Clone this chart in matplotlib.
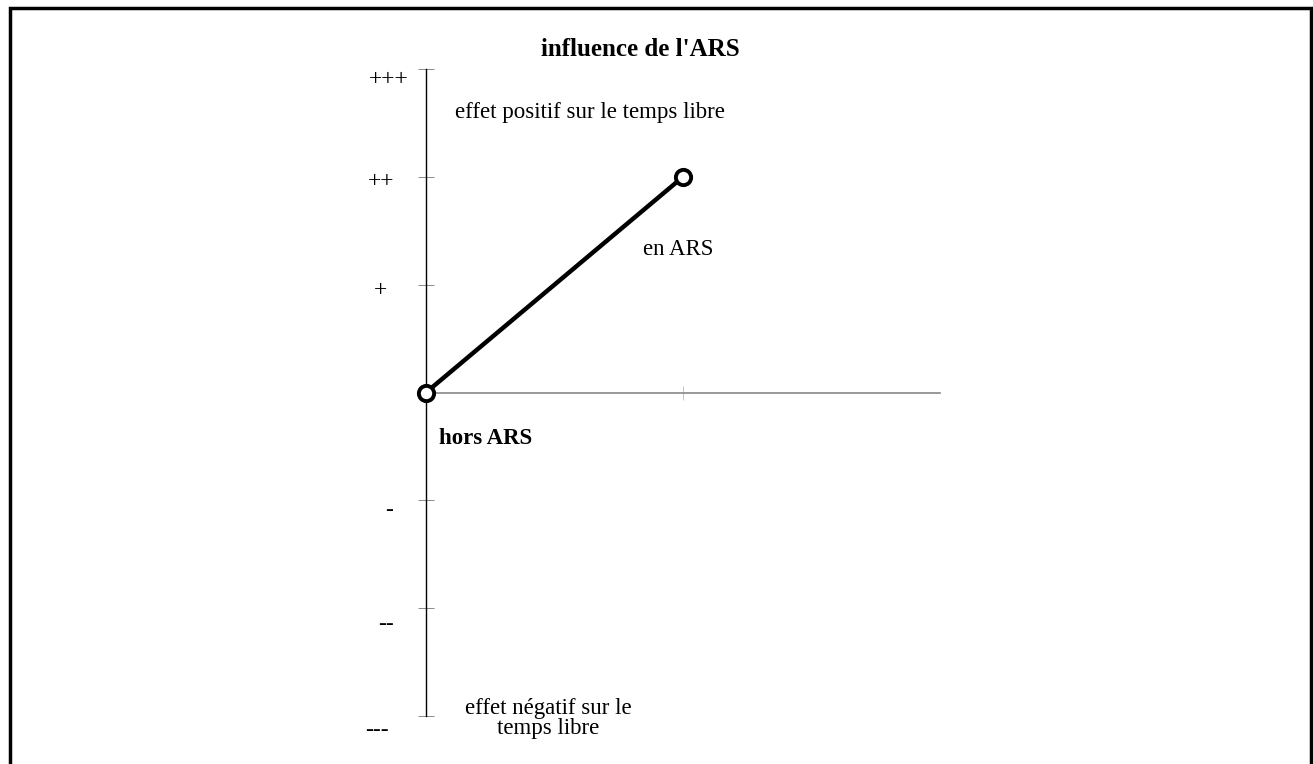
import matplotlib.pyplot as plt
from matplotlib.patches import Rectangle

# data
situations = ['hors ARS', 'en ARS']
x_pos = [0, 1]
effet = [0, 2]

niveaux = [3, 2, 1, -1, -2, -3]
niveau_labels = ['+++', '++', '+', '-', '--', '---']
label_x = [-0.144, -0.175, -0.178, -0.144, -0.155, -0.19]
label_dy = [-0.1, -0.04, -0.05, -0.09, -0.15, -0.13]

plt.rcParams['font.family'] = ['Liberation Serif', 'DejaVu Serif']

fig = plt.figure(figsize=(13.13, 7.64), dpi=100)
ax = fig.add_axes([426 / 1313, 1 - 716 / 764, 514 / 1313, 647 / 764])
ax.set_xlim(0, 2)
ax.set_ylim(-3, 3)

for s in ['top', 'right']:
    ax.spines[s].set_visible(False)
ax.spines['left'].set_linewidth(1.0)
ax.spines['bottom'].set_position(('data', 0))
ax.spines['bottom'].set_color('#888888')
ax.spines['bottom'].set_linewidth(1.2)

ax.set_yticks([-3, -2, -1, 0, 1, 2, 3])
ax.set_yticklabels([])
ax.tick_params(axis='y', direction='inout', length=12, width=0.6, color='#777777')
ax.set_xticks([1])
ax.set_xticklabels([])
ax.tick_params(axis='x', direction='inout', length=10, width=0.6, color='#bbbbbb')

ax.plot(x_pos, effet, color='black', linewidth=3.2, marker='o', markersize=11,
        markerfacecolor='white', markeredgecolor='black', markeredgewidth=2.8,
        clip_on=False, zorder=5)

for v, lab, lx, dy in zip(niveaux, niveau_labels, label_x, label_dy):
    ax.text(lx, v + dy, lab, fontsize=17, ha='center', va='center', clip_on=False)

ax.text(0.833, 3.18, "influence de l'ARS", fontsize=18, fontweight='bold',
        ha='center', va='center', clip_on=False)
ax.text(0.113, 2.60, 'effet positif sur le temps libre', fontsize=16.5,
        ha='left', va='center')
ax.text(0.98, 1.33, situations[1], fontsize=16.5, ha='center', va='center')
ax.text(0.05, -0.43, situations[0], fontsize=16.5, fontweight='bold',
        ha='left', va='center')
ax.text(0.475, -3.02, 'effet négatif sur le\ntemps libre', fontsize=16.5,
        ha='center', va='center', linespacing=0.95, clip_on=False)

# page frame
fig.patches.append(Rectangle((10 / 1313, -0.05), 1301 / 1313, 1 - 8 / 764 + 0.05,
                             transform=fig.transFigure, fill=False,
                             edgecolor='black', linewidth=2.5))

fig.savefig('out.png', dpi=100)
